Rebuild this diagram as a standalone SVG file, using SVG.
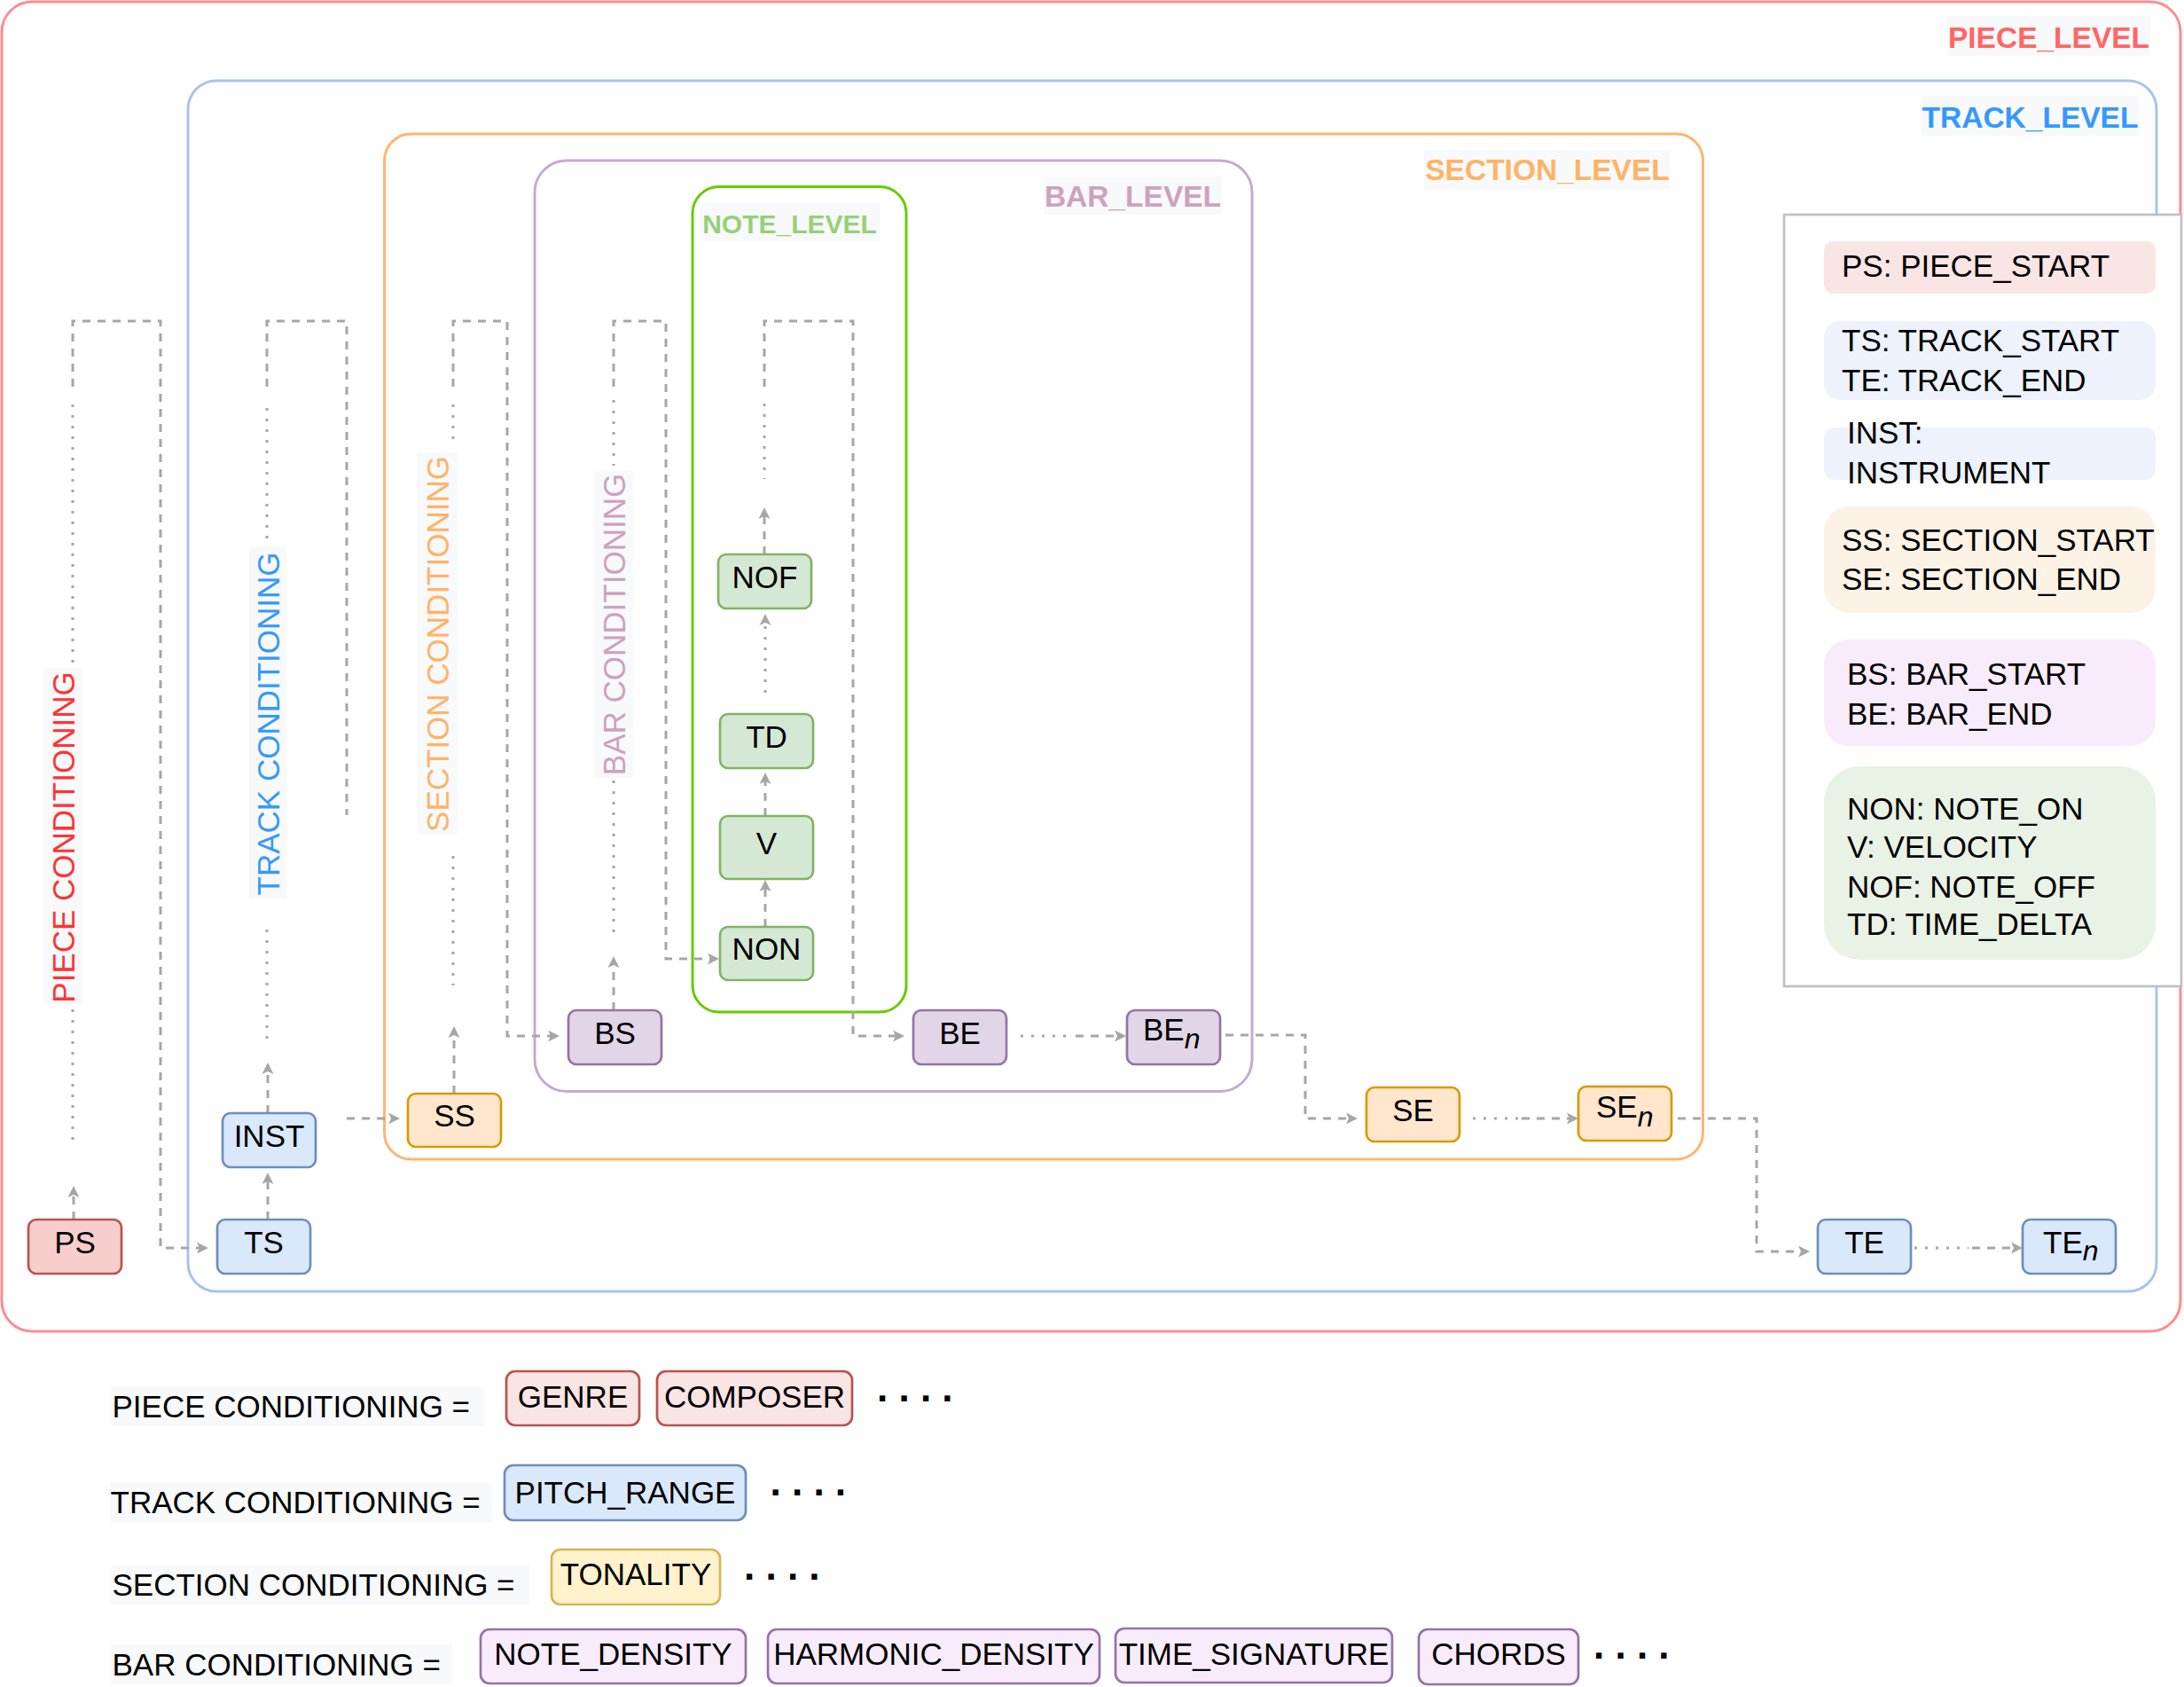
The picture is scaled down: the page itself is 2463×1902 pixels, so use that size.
<svg xmlns="http://www.w3.org/2000/svg" width="2463" height="1902" viewBox="0 0 2463 1902">
<defs>
<style>
text{font-family:"Liberation Sans",Arial,Helvetica,sans-serif;fill:#000}
.n{font-size:35px;text-anchor:middle}
.s{font-size:35px}
.sub{font-size:32px;font-style:italic}
.lv{font-size:33.5px;font-weight:bold;text-anchor:middle}
.vl{font-size:35px;text-anchor:middle}
.bg{fill:#F8F9FA}
.c{fill:none;stroke:#A6A6A6;stroke-width:3}
.d{stroke-dasharray:9 8}
.o{stroke-dasharray:3 9}
.a{marker-end:url(#ar)}
.box{fill:none;stroke-width:3}
.nd{stroke-width:2.7}
.red{fill:#F8CECC;stroke:#B85450}
.blu{fill:#DAE8FC;stroke:#6C8EBF}
.org{fill:#FFE6CC;stroke:#D79B00}
.pur{fill:#E1D5E7;stroke:#9673A6}
.grn{fill:#D5E8D4;stroke:#82B366}
.dots{font-size:44px;font-weight:bold}
</style>
<marker id="ar" markerUnits="userSpaceOnUse" viewBox="-4 -7 15 14" markerWidth="15" markerHeight="14" refX="0" refY="0" orient="auto">
<path d="M10,0 L-3,-6.5 L0,0 L-3,6.5 Z" fill="#A6A6A6"/>
</marker>
</defs>
<rect width="2463" height="1902" fill="#FFFFFF"/>

<g id="containers">
<rect id="piece-level" class="box" x="2" y="2" width="2457" height="1499" rx="34" stroke="#FF8C8C"/>
<rect id="track-level" class="box" x="212" y="91" width="2220" height="1365" rx="32" stroke="#A9C4EB"/>
<rect id="section-level" class="box" x="433.5" y="151" width="1487" height="1156" rx="30" stroke="#FFB570"/>
<rect id="bar-level" class="box" x="603" y="181" width="809" height="1049.5" rx="36" stroke="#C3ABD0"/>
<rect id="note-level" class="box" x="781" y="210.5" width="241" height="930.5" rx="30" stroke="#66CC00"/>
</g>

<g id="connectors">
<!-- piece -->
<path class="c d a" d="M83,1375 V1347"/>
<path class="c o" d="M82,456 V748 M82,1138 V1290"/>
<path class="c d a" d="M82,436 V362 H181 V1407 H225"/>
<!-- track -->
<path class="c d a" d="M302,1375 V1332"/>
<path class="c d a" d="M302,1255 V1208"/>
<path class="c o" d="M301,460 V607 M301,1048 V1171"/>
<path class="c d" d="M301,436 V362 H391 V919"/>
<path class="c d a" d="M391,1261 H441"/>
<!-- section -->
<path class="c d a" d="M512,1233 V1167"/>
<path class="c o" d="M511,456 V503 M511,965 V1111"/>
<path class="c d a" d="M511,436 V362 H572 V1168 H621"/>
<!-- bar -->
<path class="c d a" d="M692,1139 V1088"/>
<path class="c o" d="M692,451 V525 M692,880 V1053"/>
<path class="c d a" d="M692,436 V362 H751 V1081 H801"/>
<!-- note -->
<path class="c d a" d="M863,1045 V1002"/>
<path class="c d a" d="M863,920 V881"/>
<path class="c o a" d="M863,781 V702"/>
<path class="c d a" d="M862,625 V582"/>
<path class="c o" d="M862,455 V540"/>
<path class="c d a" d="M862,436 V362 H962 V1168 H1010"/>
<!-- bar end chain -->
<path class="c o" d="M1151,1168 H1208"/>
<path class="c d a" d="M1213,1168 H1260"/>
<path class="c d a" d="M1382,1167 H1472 V1261 H1521"/>
<path class="c o" d="M1661,1261 H1712"/>
<path class="c d a" d="M1716,1261 H1770"/>
<path class="c d a" d="M1892,1261 H1981 V1411 H2031"/>
<path class="c o" d="M2159,1407 H2220"/>
<path class="c d a" d="M2224,1407 H2271"/>
</g>

<g id="level-labels">
<rect class="bg" x="2196" y="18" width="229" height="45"/>
<text class="lv" x="2310.5" y="53.5" fill="#FF6666" style="fill:#FF6666">PIECE_LEVEL</text>
<rect class="bg" x="2166" y="108" width="247" height="45"/>
<text class="lv" x="2289.5" y="143.7" style="fill:#3399FF">TRACK_LEVEL</text>
<rect class="bg" x="1606" y="169" width="278" height="44"/>
<text class="lv" x="1745" y="203" style="fill:#FFB366">SECTION_LEVEL</text>
<rect class="bg" x="1177" y="199" width="201" height="43"/>
<text class="lv" x="1277.5" y="233" style="fill:#CDA2BE">BAR_LEVEL</text>
<rect class="bg" x="789" y="229" width="203" height="43"/>
<text class="lv" x="890.5" y="263" style="fill:#97D077;font-size:30px">NOTE_LEVEL</text>
</g>

<g id="conditioning-labels">
<rect class="bg" x="49" y="753" width="44" height="380"/>
<text class="vl" transform="translate(71,944) rotate(-90)" x="0" y="12.5" style="fill:#FF3333">PIECE CONDITIONING</text>
<rect class="bg" x="281" y="617" width="42" height="396"/>
<text class="vl" transform="translate(302,816) rotate(-90)" x="0" y="12.5" style="fill:#3399FF">TRACK CONDITIONING</text>
<rect class="bg" x="470" y="510" width="46" height="431"/>
<text class="vl" transform="translate(493,726) rotate(-90)" x="0" y="12.5" style="fill:#FFB366">SECTION CONDITIONING</text>
<rect class="bg" x="670.5" y="531" width="43.5" height="346"/>
<text class="vl" transform="translate(692.5,704) rotate(-90)" x="0" y="12.5" style="fill:#CDA2BE">BAR CONDITIONING</text>
</g>

<g id="node-PS"><rect class="nd red" x="32" y="1375" width="105" height="61" rx="9"/><text class="n" x="84.5" y="1412.5">PS</text></g>
<g id="node-TS"><rect class="nd blu" x="245" y="1375" width="105" height="61" rx="9"/><text class="n" x="297.5" y="1412.5">TS</text></g>
<g id="node-INST"><rect class="nd blu" x="251" y="1255" width="105" height="61" rx="9"/><text class="n" x="303.5" y="1292.5">INST</text></g>
<g id="node-SS"><rect class="nd org" x="460" y="1233" width="105" height="60" rx="9"/><text class="n" x="512.5" y="1269.5">SS</text></g>
<g id="node-BS"><rect class="nd pur" x="641" y="1139" width="105" height="61" rx="9"/><text class="n" x="693.5" y="1176.5">BS</text></g>
<g id="node-BE"><rect class="nd pur" x="1030" y="1139" width="105" height="61" rx="9"/><text class="n" x="1082.5" y="1176.5">BE</text></g>
<g id="node-BEn"><rect class="nd pur" x="1271" y="1139" width="105" height="61" rx="9"/><text class="s" x="1289" y="1172.7">BE<tspan class="sub" dy="9.5">n</tspan></text></g>
<g id="node-NON"><rect class="nd grn" x="812" y="1045" width="105" height="60" rx="9"/><text class="n" x="864.5" y="1082">NON</text></g>
<g id="node-V"><rect class="nd grn" x="812" y="920" width="105" height="71" rx="9"/><text class="n" x="864.5" y="962.5">V</text></g>
<g id="node-TD"><rect class="nd grn" x="812" y="805" width="105" height="61" rx="9"/><text class="n" x="864.5" y="842.5">TD</text></g>
<g id="node-NOF"><rect class="nd grn" x="810" y="625" width="105" height="61" rx="9"/><text class="n" x="862.5" y="662.5">NOF</text></g>
<g id="node-SE"><rect class="nd org" x="1541" y="1226" width="105" height="61" rx="9"/><text class="n" x="1593.5" y="1263.5">SE</text></g>
<g id="node-SEn"><rect class="nd org" x="1780" y="1225" width="105" height="61" rx="9"/><text class="s" x="1800" y="1260">SE<tspan class="sub" dy="10">n</tspan></text></g>
<g id="node-TE"><rect class="nd blu" x="2050" y="1375" width="105" height="61" rx="9"/><text class="n" x="2102.5" y="1412.5">TE</text></g>
<g id="node-TEn"><rect class="nd blu" x="2281" y="1375" width="105" height="61" rx="9"/><text class="s" x="2304" y="1412.5">TE<tspan class="sub" dy="8.5">n</tspan></text></g>

<g id="legend">
<rect x="2012" y="242" width="448" height="870" fill="#FFFFFF" stroke="#C0C0C0" stroke-width="2.7"/>
<rect x="2057" y="272" width="374" height="59" rx="10" fill="#F9E5E4"/>
<text class="s" x="2077" y="311.7">PS: PIECE_START</text>
<rect x="2057" y="362" width="374" height="89" rx="18" fill="#EDF2FC"/>
<text class="s" x="2077" y="395.7">TS: TRACK_START</text>
<text class="s" x="2077" y="440.7">TE: TRACK_END</text>
<rect x="2057" y="482" width="374" height="59" rx="12" fill="#EDF2FC"/>
<text class="s" x="2083" y="500">INST:</text>
<text class="s" x="2083" y="545">INSTRUMENT</text>
<rect x="2057" y="571" width="374" height="120" rx="28" fill="#FDF2E6"/>
<text class="s" x="2077" y="620.5">SS: SECTION_START</text>
<text class="s" x="2077" y="665">SE: SECTION_END</text>
<rect x="2057" y="721" width="374" height="120" rx="28" fill="#F8ECFC"/>
<text class="s" x="2083" y="772">BS: BAR_START</text>
<text class="s" x="2083" y="817">BE: BAR_END</text>
<rect x="2057" y="864" width="374" height="218" rx="40" fill="#E8F2E5"/>
<text class="s" x="2083" y="924">NON: NOTE_ON</text>
<text class="s" x="2083" y="967">V: VELOCITY</text>
<text class="s" x="2083" y="1012">NOF: NOTE_OFF</text>
<text class="s" x="2083" y="1054">TD: TIME_DELTA</text>
</g>

<g id="conditioning-rows">
<rect class="bg" x="125" y="1563" width="421" height="45"/>
<text class="s" x="126.5" y="1598">PIECE CONDITIONING =</text>
<g id="cond-GENRE"><rect class="nd" x="571" y="1546" width="150" height="61" rx="10" fill="#F9E5E4" stroke="#B85450"/><text class="n" x="646" y="1587">GENRE</text></g>
<g id="cond-COMPOSER"><rect class="nd" x="741" y="1546" width="220" height="61" rx="10" fill="#F9E5E4" stroke="#B85450"/><text class="n" x="851" y="1587">COMPOSER</text></g>
<text class="dots" x="989" y="1580">. . . .</text>

<rect class="bg" x="124" y="1671" width="431" height="45"/>
<text class="s" x="124.5" y="1706">TRACK CONDITIONING =</text>
<g id="cond-PITCH_RANGE"><rect class="nd blu" x="569" y="1652" width="272" height="62" rx="10"/><text class="n" x="705" y="1695">PITCH_RANGE</text></g>
<text class="dots" x="868.5" y="1686">. . . .</text>

<rect class="bg" x="125" y="1764" width="472" height="45"/>
<text class="s" x="126.5" y="1799">SECTION CONDITIONING =</text>
<g id="cond-TONALITY"><rect class="nd" x="622" y="1747" width="190" height="62" rx="10" fill="#FFF2CC" stroke="#D6B656"/><text class="n" x="717" y="1787">TONALITY</text></g>
<text class="dots" x="839" y="1781">. . . .</text>

<rect class="bg" x="125" y="1854" width="385" height="45"/>
<text class="s" x="126.5" y="1889">BAR CONDITIONING =</text>
<g id="cond-NOTE_DENSITY"><rect class="nd" x="542" y="1837" width="299" height="61" rx="10" fill="#F8ECFC" stroke="#9673A6"/><text class="n" x="691.5" y="1877">NOTE_DENSITY</text></g>
<g id="cond-HARMONIC_DENSITY"><rect class="nd" x="866" y="1837" width="374" height="61" rx="10" fill="#F8ECFC" stroke="#9673A6"/><text class="n" x="1053" y="1877">HARMONIC_DENSITY</text></g>
<g id="cond-TIME_SIGNATURE"><rect class="nd" x="1258" y="1836" width="312" height="61" rx="10" fill="#F8ECFC" stroke="#9673A6"/><text class="n" x="1414" y="1877">TIME_SIGNATURE</text></g>
<g id="cond-CHORDS"><rect class="nd" x="1600" y="1837" width="180" height="62" rx="10" fill="#F8ECFC" stroke="#9673A6"/><text class="n" x="1690" y="1877">CHORDS</text></g>
<text class="dots" x="1797" y="1870">. . . .</text>
</g>
</svg>
